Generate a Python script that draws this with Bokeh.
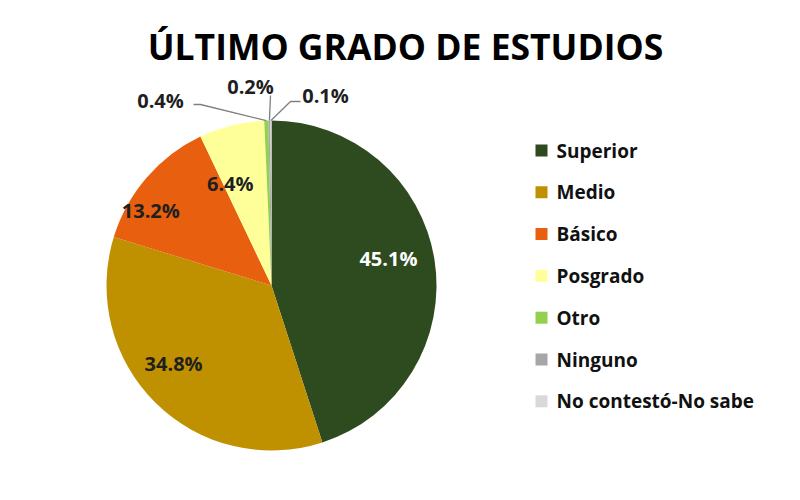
import math

from bokeh.core.properties import value
from bokeh.embed import file_html
from bokeh.models import ColumnDataSource, Range1d
from bokeh.plotting import figure
from bokeh.resources import INLINE

# data
categories = ["Superior", "Medio", "Básico", "Posgrado", "Otro", "Ninguno", "No contestó-No sabe"]
percents = [45.1, 34.8, 13.2, 6.4, 0.4, 0.2, 0.1]
colors = ["#2E4B20", "#BF9000", "#E8600F", "#FFFF99", "#92D050", "#A6A6A6", "#D9D9D9"]
title = "ÚLTIMO GRADO DE ESTUDIOS"

FONT = "Open Sans"
W, H = 784, 484
cx, cy, R = 271, 199, 165

p = figure(width=W, height=H, x_range=Range1d(0, W), y_range=Range1d(0, H),
           output_backend="svg", toolbar_location=None, min_border=0)
p.axis.visible = False
p.grid.visible = False
p.outline_line_color = None
p.background_fill_color = "white"
p.border_fill_color = "white"

# wedges, clockwise from 12 o'clock
total = sum(percents)
starts, ends, mids = [], [], []
acc = 0.0
for v in percents:
    a0 = acc / total * 2 * math.pi
    acc += v
    a1 = acc / total * 2 * math.pi
    starts.append(math.pi / 2 - a1)
    ends.append(math.pi / 2 - a0)
    mids.append((a0 + a1) / 2)

src = ColumnDataSource(dict(start=starts, end=ends, color=colors))
p.wedge(x=cx, y=cy, radius=R, start_angle="start", end_angle="end",
        fill_color="color", line_color=None, source=src)

# labels inside the big slices
inner_r = [120, 125, 142, 110]
inner_nudge = [-4, 7, -9, -8]
inner_color = ["white", "#1F1F1F", "#1F1F1F", "#1F1F1F"]
for i in range(4):
    a = mids[i] + math.radians(inner_nudge[i])
    lx = cx + inner_r[i] * math.sin(a)
    ly = cy + inner_r[i] * math.cos(a)
    p.text(x=[lx], y=[ly], text=[f"{percents[i]}%"], text_align="center",
           text_baseline="middle", text_font=value(FONT), text_font_style="bold",
           text_font_size="20px", text_color=inner_color[i])

# small slices: labels outside with leader lines
out_lab = [(160, 384), (250, 398), (325, 389)]
out_elbow = [[(193, 380), (200, 380)], [(270, 389)], [(300, 383), (290, 383)]]
for k, i in enumerate([4, 5, 6]):
    ax = cx + R * math.sin(mids[i])
    ay = cy + R * math.cos(mids[i])
    pts = out_elbow[k] + [(ax, ay)]
    p.line(x=[q[0] for q in pts], y=[q[1] for q in pts], line_color="#7F7F7F", line_width=1.3)
    lx, ly = out_lab[k]
    p.text(x=[lx], y=[ly], text=[f"{percents[i]}%"], text_align="center",
           text_baseline="middle", text_font=value(FONT), text_font_style="bold",
           text_font_size="20px", text_color="#1F1F1F")

# title
p.text(x=[405], y=[439], text=[title], text_align="center", text_baseline="middle",
       text_font=value(FONT), text_font_style="bold", text_font_size="35.5px",
       text_color="black")

# legend
leg_y = [334 - 41.8 * i for i in range(len(categories))]
p.rect(x=[541] * len(categories), y=leg_y, width=12, height=12,
       fill_color=colors, line_color=None)
p.text(x=[556] * len(categories), y=leg_y, text=categories, text_baseline="middle",
       text_font=value(FONT), text_font_style="bold", text_font_size="19px",
       text_color="#111111")

open("out.html", "w").write(file_html(p, INLINE))
